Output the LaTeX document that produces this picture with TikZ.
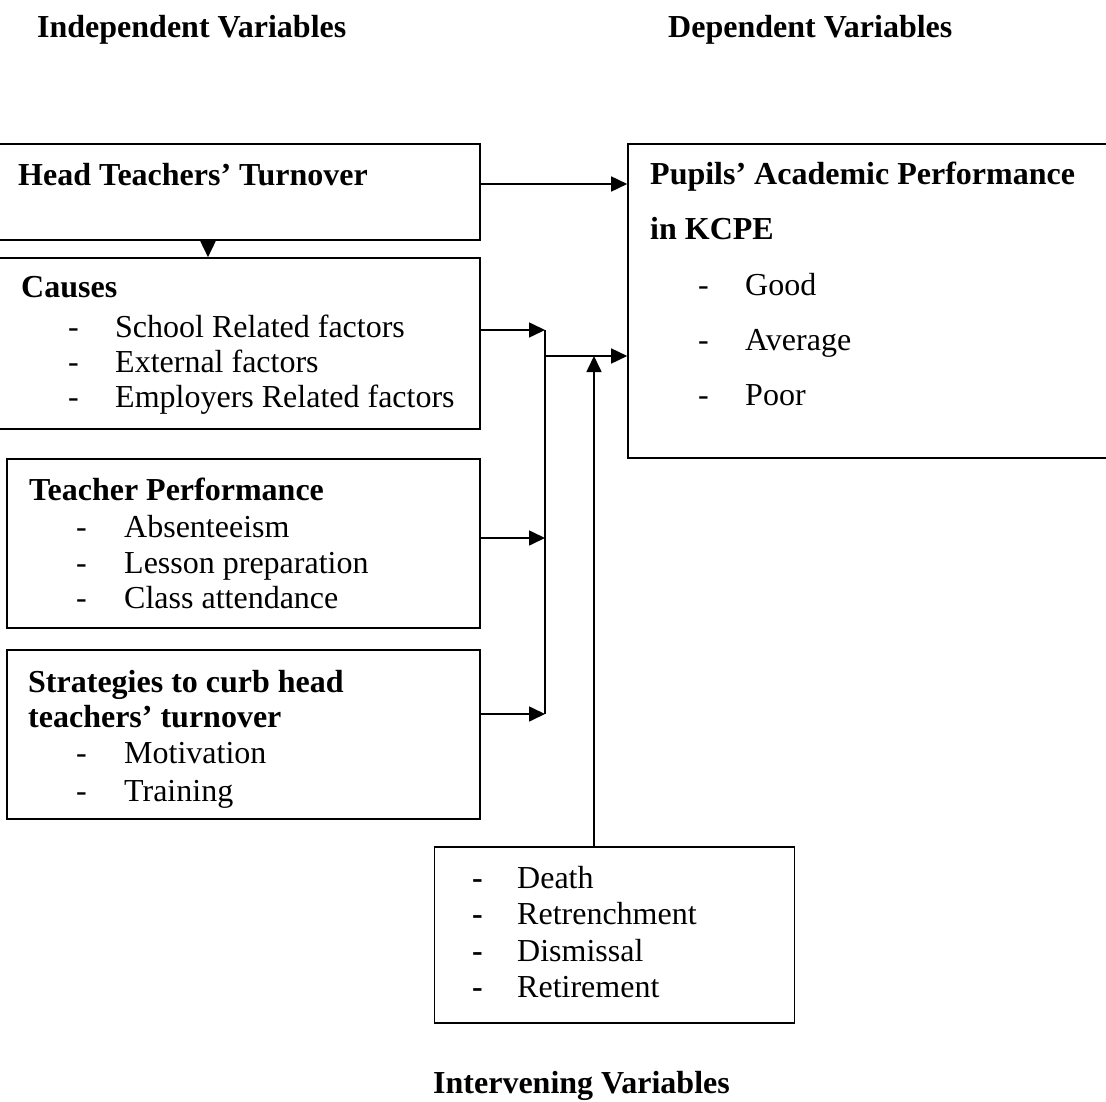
\documentclass[tikz,border=0pt]{standalone}
\usepackage{fontspec}
\setmainfont{Liberation Serif}
\usetikzlibrary{arrows.meta}
\tikzset{
  box/.style={draw=black, line width=1.6pt, inner sep=0pt, fill=none},
  txt/.style={anchor=base west, inner sep=0pt, font=\fontsize{32}{36}\selectfont},
  hd/.style={txt, font=\fontsize{32}{36}\selectfont\bfseries},
  conn/.style={line width=1.6pt, -{Triangle[length=16pt,width=15pt]}},
  plain/.style={line width=1.6pt}
}
\begin{document}
\begin{tikzpicture}[x=1pt,y=-1pt]
\useasboundingbox (0,0) rectangle (1106,1102);
% titles
\node[hd] (tInd) at (37,38) {Independent Variables};
\node[hd] (tDep) at (668,38) {Dependent Variables};
\node[hd] (tInt) at (433,1093) {Intervening Variables};
% boxes
\node[box, minimum width=484pt, minimum height=96pt] (b1) at (238,192) {};
\node[box, minimum width=484pt, minimum height=171pt] (b2) at (238,343.5) {};
\node[box, minimum width=473pt, minimum height=169pt] (b3) at (243.5,543.5) {};
\node[box, minimum width=473pt, minimum height=169pt] (b4) at (243.5,734.5) {};
\node[box, minimum width=484pt, minimum height=314pt] (b5) at (870,301) {};
\node[box, minimum width=360pt, minimum height=176pt] (b6) at (614.5,935) {};
% box 1
\node[hd] (h1) at (18,186) {Head Teachers’ Turnover};
% box 2
\node[hd] (h2) at (21,298) {Causes};
\node[txt] (d21) at (68,337) {-}; \node[txt] (i21) at (115,337) {School Related factors};
\node[txt] (d22) at (68,372) {-}; \node[txt] (i22) at (115,372) {External factors};
\node[txt] (d23) at (68,407) {-}; \node[txt] (i23) at (115,407) {Employers Related factors};
% box 3
\node[hd] (h3) at (29,500) {Teacher Performance};
\node[txt] (d31) at (76,537) {-}; \node[txt] (i31) at (124,537) {Absenteeism};
\node[txt] (d32) at (76,573) {-}; \node[txt] (i32) at (124,573) {Lesson preparation};
\node[txt] (d33) at (76,608) {-}; \node[txt] (i33) at (124,608) {Class attendance};
% box 4
\node[hd] (h4a) at (28,692) {Strategies to curb head};
\node[hd] (h4b) at (28,727) {teachers’ turnover};
\node[txt] (d41) at (76,763) {-}; \node[txt] (i41) at (124,763) {Motivation};
\node[txt] (d42) at (76,801) {-}; \node[txt] (i42) at (124,801) {Training};
% box 5
\node[hd] (h5a) at (650,185) {Pupils’ Academic Performance};
\node[hd] (h5b) at (650,240) {in KCPE};
\node[txt] (d51) at (698,295) {-}; \node[txt] (i51) at (745,295) {Good};
\node[txt] (d52) at (698,350) {-}; \node[txt] (i52) at (745,350) {Average};
\node[txt] (d53) at (698,405) {-}; \node[txt] (i53) at (745,405) {Poor};
% box 6
\node[hd] (d61) at (472,888) {-}; \node[txt] (i61) at (517,888) {Death};
\node[hd] (d62) at (472,924) {-}; \node[txt] (i62) at (517,924) {Retrenchment};
\node[hd] (d63) at (472,961) {-}; \node[txt] (i63) at (517,961) {Dismissal};
\node[hd] (d64) at (472,997) {-}; \node[txt] (i64) at (517,997) {Retirement};
% connectors
\coordinate (jTop) at (545,330);
\coordinate (jBot) at (545,714);
\coordinate (jMid) at (545,356);
\coordinate (jUp) at (594,356);
\draw[conn] (b1.east |- 0,184) -- (b5.west |- 0,184);
\draw[conn] (b1.south -| 208,0) -- (b2.north -| 208,0);
\draw[conn] (b2.east |- jTop) -- (jTop);
\draw[conn] (b3.east |- 0,538) -- (545,538);
\draw[conn] (b4.east |- jBot) -- (jBot);
\draw[plain] (jTop) -- (jBot);
\draw[conn] (jMid) -- (b5.west |- jMid);
\draw[conn] (b6.north -| jUp) -- (jUp);
\end{tikzpicture}
\end{document}
